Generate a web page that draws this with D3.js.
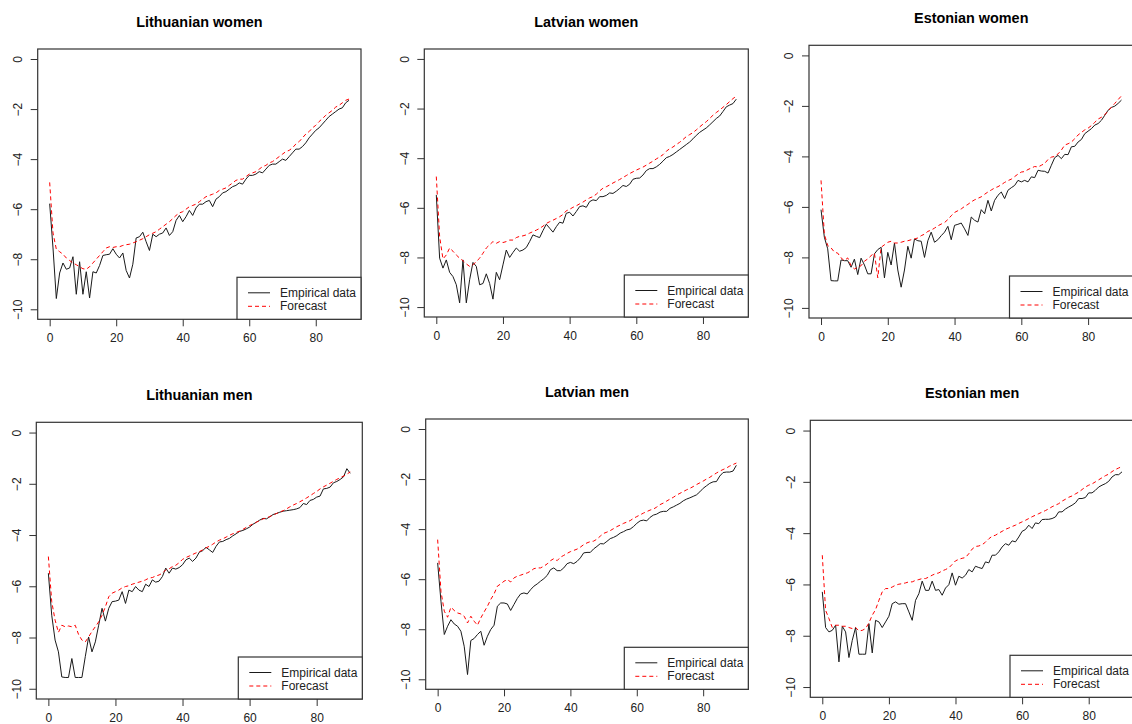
<!DOCTYPE html>
<html>
<head>
<meta charset="utf-8">
<script src="https://cdn.jsdelivr.net/npm/d3@7"></script>
<style>
  body { margin: 0; background: #fff; }
  svg { display: block; font-family: "Liberation Sans", Arial, sans-serif; }
</style>
</head>
<body>
<div id="main"></div>
<script>
// chart data
const titles = ["Lithuanian women", "Latvian women", "Estonian women",
                "Lithuanian men", "Latvian men", "Estonian men"];
const ages = d3.range(0, 91);
const xTicks = [0, 20, 40, 60, 80];
const yTicks = [0, -2, -4, -6, -8, -10];
const legendLabels = ["Empirical data", "Forecast"];

const ltWomenEmp = [-5.78,-7.55,-9.57,-8.55,-8.15,-8.4,-8.35,-7.9,-9.4,-8.1,
  -9.4,-8.5,-9.55,-8.5,-8.55,-8.25,-7.85,-7.82,-7.8,-7.58,
  -7.8,-7.95,-7.75,-8.45,-8.75,-8.2,-7.15,-7.1,-6.92,-7.3,
  -7.65,-7.0,-7.1,-7.0,-6.95,-6.75,-7.05,-6.9,-6.45,-6.25,
  -6.5,-6.3,-6.05,-6.25,-5.95,-5.8,-5.8,-5.7,-5.65,-5.9,
  -5.6,-5.5,-5.35,-5.3,-5.2,-5.1,-5.05,-4.95,-5.0,-4.8,
  -4.65,-4.65,-4.6,-4.5,-4.55,-4.4,-4.25,-4.2,-4.2,-4.1,
  -4.0,-4.05,-3.9,-3.75,-3.6,-3.6,-3.5,-3.35,-3.15,-3.0,
  -2.85,-2.75,-2.6,-2.45,-2.3,-2.2,-2.1,-2.0,-1.95,-1.75,-1.65];
const ltWomenFc = [-4.93,-6.95,-7.6,-7.7,-7.8,-7.95,-8.05,-8.15,-8.22,-8.3,
  -8.38,-8.4,-8.3,-8.15,-8.0,-7.85,-7.7,-7.55,-7.5,-7.53,
  -7.5,-7.5,-7.45,-7.42,-7.4,-7.35,-7.3,-7.24,-7.18,-7.1,
  -7.02,-6.96,-6.9,-6.8,-6.7,-6.6,-6.5,-6.38,-6.25,-6.15,
  -6.1,-6.0,-5.9,-5.85,-5.8,-5.7,-5.6,-5.5,-5.45,-5.4,
  -5.35,-5.25,-5.2,-5.15,-5.05,-4.95,-4.85,-4.8,-4.8,-4.7,
  -4.6,-4.55,-4.5,-4.4,-4.3,-4.25,-4.15,-4.1,-4.0,-3.9,
  -3.8,-3.7,-3.65,-3.55,-3.4,-3.3,-3.15,-3.0,-2.9,-2.75,
  -2.65,-2.5,-2.38,-2.25,-2.15,-2.05,-1.92,-1.85,-1.75,-1.65,-1.6];

const lvWomenEmp = [-5.48,-8.03,-8.43,-8.1,-8.6,-8.77,-9.1,-9.83,-8.1,-9.83,
  -8.9,-8.2,-8.36,-9.1,-9.05,-8.66,-9.05,-9.68,-8.6,-8.9,
  -8.3,-7.7,-8.0,-7.8,-7.62,-7.75,-7.7,-7.6,-7.36,-7.09,
  -7.15,-7.2,-6.92,-6.66,-6.82,-6.98,-6.76,-6.58,-6.62,-6.22,
  -6.18,-6.33,-6.15,-5.95,-5.92,-5.98,-5.75,-5.68,-5.71,-5.55,
  -5.55,-5.5,-5.4,-5.42,-5.33,-5.22,-5.1,-5.14,-5.05,-4.85,
  -4.81,-4.8,-4.68,-4.5,-4.42,-4.42,-4.35,-4.25,-4.12,-3.98,
  -3.93,-3.85,-3.75,-3.65,-3.55,-3.45,-3.35,-3.22,-3.08,-2.96,
  -2.87,-2.78,-2.66,-2.53,-2.4,-2.3,-2.12,-1.93,-1.86,-1.8,-1.62];
const lvWomenFc = [-4.74,-7.16,-8.06,-7.9,-7.62,-7.75,-7.9,-8.03,-8.13,-8.26,
  -8.36,-8.3,-8.16,-8.03,-7.83,-7.62,-7.49,-7.36,-7.43,-7.36,
  -7.4,-7.36,-7.3,-7.3,-7.2,-7.15,-7.13,-7.09,-7.02,-6.96,
  -6.9,-6.83,-6.74,-6.63,-6.56,-6.5,-6.43,-6.36,-6.27,-6.12,
  -6.06,-5.98,-5.92,-5.84,-5.77,-5.68,-5.6,-5.55,-5.45,-5.32,
  -5.21,-5.15,-5.08,-5.0,-4.93,-4.86,-4.78,-4.7,-4.62,-4.55,
  -4.48,-4.42,-4.36,-4.28,-4.2,-4.12,-4.03,-3.95,-3.86,-3.72,
  -3.62,-3.55,-3.45,-3.36,-3.25,-3.13,-3.05,-2.97,-2.86,-2.74,
  -2.63,-2.53,-2.4,-2.27,-2.16,-2.06,-1.95,-1.84,-1.72,-1.6,-1.5];

const etWomenEmp = [-6.11,-7.2,-7.66,-8.92,-8.93,-8.93,-8.1,-8.13,-8.13,-8.39,
  -8.07,-8.68,-8.03,-8.3,-8.65,-8.65,-7.86,-7.69,-7.6,-8.81,
  -7.8,-8.3,-7.43,-8.5,-9.18,-8.5,-7.56,-8.03,-7.27,-7.34,
  -7.36,-8.0,-7.34,-7.0,-7.4,-7.3,-7.14,-7.0,-6.77,-7.3,
  -6.73,-6.69,-6.64,-6.87,-7.13,-6.4,-6.53,-6.6,-6.11,-6.27,
  -5.74,-6.16,-5.74,-5.54,-5.41,-5.67,-5.34,-5.24,-5.15,-4.95,
  -5.01,-4.95,-5.01,-4.81,-4.84,-4.55,-4.58,-4.59,-4.66,-4.35,
  -4.05,-3.96,-4.09,-3.92,-3.93,-3.62,-3.6,-3.43,-3.33,-3.1,
  -3.0,-2.9,-2.76,-2.7,-2.57,-2.37,-2.17,-2.06,-2.01,-1.9,-1.77];
const etWomenFc = [-4.95,-7.08,-7.53,-7.62,-7.79,-7.83,-8.02,-8.13,-8.02,-8.33,
  -8.46,-8.39,-8.33,-8.15,-8.06,-7.93,-7.83,-8.81,-7.6,-7.5,
  -7.4,-7.36,-7.43,-7.43,-7.4,-7.36,-7.34,-7.3,-7.27,-7.23,
  -7.14,-7.08,-6.97,-6.92,-6.84,-6.75,-6.68,-6.62,-6.5,-6.35,
  -6.22,-6.15,-6.08,-5.98,-5.9,-5.8,-5.72,-5.66,-5.6,-5.5,
  -5.41,-5.33,-5.25,-5.2,-5.12,-5.03,-4.96,-4.9,-4.8,-4.7,
  -4.62,-4.6,-4.52,-4.46,-4.4,-4.42,-4.35,-4.28,-4.12,-4.03,
  -4.0,-3.9,-3.75,-3.55,-3.5,-3.43,-3.3,-3.15,-3.05,-2.95,
  -2.88,-2.78,-2.65,-2.52,-2.45,-2.35,-2.2,-2.05,-1.9,-1.75,-1.6];

const ltMenEmp = [-5.49,-7.13,-8.1,-8.56,-9.54,-9.56,-9.56,-8.82,-9.56,-9.56,
  -9.56,-8.75,-7.98,-8.56,-8.17,-7.52,-6.86,-7.36,-6.86,-6.6,
  -6.58,-6.54,-6.21,-6.67,-6.15,-6.21,-6.01,-6.15,-6.21,-5.92,
  -6.01,-5.75,-5.84,-5.8,-5.62,-5.29,-5.49,-5.29,-5.33,-5.27,
  -5.16,-4.97,-4.9,-5.03,-4.9,-4.67,-4.61,-4.48,-4.58,-4.68,
  -4.44,-4.27,-4.25,-4.18,-4.13,-4.03,-3.95,-3.86,-3.82,-3.76,
  -3.69,-3.58,-3.5,-3.42,-3.35,-3.37,-3.29,-3.2,-3.16,-3.11,
  -3.07,-3.05,-3.03,-3.01,-2.98,-2.93,-2.77,-2.81,-2.65,-2.61,
  -2.52,-2.48,-2.2,-2.18,-2.13,-1.96,-1.91,-1.83,-1.73,-1.41,-1.59];
const ltMenFc = [-4.84,-6.6,-7.32,-7.8,-7.52,-7.58,-7.55,-7.58,-7.52,-7.88,
  -8.1,-8.17,-7.98,-7.76,-7.58,-7.39,-7.13,-6.8,-6.41,-6.27,
  -6.21,-6.15,-6.06,-6.01,-5.98,-5.92,-5.88,-5.84,-5.8,-5.75,
  -5.68,-5.66,-5.6,-5.56,-5.49,-5.36,-5.32,-5.23,-5.18,-5.08,
  -4.95,-4.88,-4.82,-4.76,-4.7,-4.65,-4.58,-4.5,-4.44,-4.36,
  -4.27,-4.2,-4.15,-4.08,-4.01,-3.95,-3.9,-3.85,-3.78,-3.7,
  -3.63,-3.57,-3.5,-3.44,-3.37,-3.33,-3.28,-3.22,-3.16,-3.1,
  -3.05,-2.98,-2.9,-2.83,-2.77,-2.7,-2.63,-2.55,-2.47,-2.38,
  -2.3,-2.2,-2.12,-2.05,-1.98,-1.9,-1.83,-1.76,-1.7,-1.62,-1.54];

const lvMenEmp = [-5.35,-6.88,-8.21,-7.88,-7.62,-7.79,-7.88,-8.08,-8.68,-9.81,
  -8.45,-8.37,-8.21,-8.08,-8.64,-8.28,-8.01,-7.84,-7.08,-6.95,
  -6.95,-6.99,-7.25,-7.01,-6.77,-6.59,-6.55,-6.59,-6.42,-6.28,
  -6.19,-6.08,-5.98,-5.85,-5.62,-5.55,-5.66,-5.66,-5.55,-5.38,
  -5.33,-5.38,-5.29,-5.15,-4.95,-4.93,-4.93,-4.79,-4.69,-4.58,
  -4.59,-4.49,-4.38,-4.33,-4.26,-4.16,-4.1,-4.03,-4.0,-3.9,
  -3.77,-3.67,-3.64,-3.67,-3.53,-3.44,-3.4,-3.32,-3.29,-3.29,
  -3.17,-3.11,-3.04,-2.97,-2.87,-2.8,-2.75,-2.69,-2.63,-2.51,
  -2.37,-2.27,-2.17,-2.11,-2.1,-1.88,-1.74,-1.72,-1.72,-1.68,-1.45];
const lvMenFc = [-4.42,-6.49,-7.28,-7.52,-7.12,-7.25,-7.35,-7.39,-7.48,-7.75,
  -7.48,-7.68,-7.84,-7.55,-7.31,-7.08,-6.81,-6.59,-6.28,-6.19,
  -6.08,-6.02,-6.11,-5.95,-5.88,-5.84,-5.79,-5.75,-5.68,-5.58,
  -5.55,-5.55,-5.48,-5.39,-5.26,-5.18,-5.26,-5.12,-5.05,-4.97,
  -4.9,-4.85,-4.8,-4.72,-4.62,-4.55,-4.5,-4.48,-4.4,-4.28,
  -4.17,-4.12,-4.06,-3.98,-3.9,-3.84,-3.77,-3.72,-3.66,-3.57,
  -3.5,-3.43,-3.36,-3.3,-3.24,-3.2,-3.12,-3.02,-2.96,-2.88,
  -2.8,-2.73,-2.64,-2.57,-2.5,-2.43,-2.37,-2.3,-2.22,-2.15,
  -2.08,-2.0,-1.93,-1.84,-1.76,-1.68,-1.62,-1.56,-1.48,-1.42,-1.36];

const etMenEmp = [-6.29,-7.68,-7.85,-7.79,-7.59,-9.02,-7.63,-7.85,-8.85,-8.18,
  -7.68,-8.72,-8.72,-8.72,-7.53,-8.67,-7.4,-7.46,-7.68,-7.46,
  -7.24,-6.75,-6.68,-6.77,-6.75,-6.75,-7.07,-7.4,-6.62,-6.36,
  -5.87,-6.23,-6.23,-5.87,-6.23,-6.2,-6.42,-6.14,-6.01,-5.55,
  -6.03,-5.68,-5.75,-5.64,-5.42,-5.51,-5.29,-5.34,-5.38,-5.12,
  -5.16,-4.86,-4.86,-4.73,-4.54,-4.41,-4.47,-4.3,-4.34,-4.15,
  -3.93,-3.86,-3.69,-3.82,-3.6,-3.63,-3.47,-3.46,-3.46,-3.43,
  -3.37,-3.17,-3.17,-3.06,-2.98,-2.91,-2.82,-2.65,-2.65,-2.61,
  -2.43,-2.43,-2.33,-2.2,-2.13,-2.07,-1.98,-1.81,-1.72,-1.72,-1.61];
const etMenFc = [-4.86,-7.01,-7.33,-7.68,-7.59,-7.59,-7.63,-7.63,-7.68,-7.72,
  -7.68,-7.81,-7.79,-7.72,-7.5,-7.2,-6.98,-6.62,-6.29,-6.16,
  -6.16,-6.1,-6.03,-5.99,-5.97,-5.94,-5.9,-5.9,-5.84,-5.81,
  -5.77,-5.77,-5.71,-5.64,-5.58,-5.55,-5.47,-5.42,-5.35,-5.22,
  -5.08,-5.02,-4.98,-4.95,-4.8,-4.62,-4.52,-4.5,-4.45,-4.35,
  -4.22,-4.12,-4.08,-4.0,-3.93,-3.85,-3.8,-3.74,-3.69,-3.62,
  -3.56,-3.5,-3.43,-3.36,-3.3,-3.24,-3.18,-3.12,-3.05,-2.97,
  -2.91,-2.85,-2.75,-2.68,-2.6,-2.55,-2.47,-2.4,-2.3,-2.2,
  -2.13,-2.08,-2.0,-1.92,-1.84,-1.76,-1.7,-1.6,-1.52,-1.46,-1.4];

const empirical = [ltWomenEmp, lvWomenEmp, etWomenEmp, ltMenEmp, lvMenEmp, etMenEmp];
const forecast = [ltWomenFc, lvWomenFc, etWomenFc, ltMenFc, lvMenFc, etMenFc];

// plot region of each panel (pixels)
const boxes = [
  { l: 37.7,  t: 49,    r: 361,    b: 319.3 },
  { l: 424.3, t: 49,    r: 748.3,  b: 317 },
  { l: 809,   t: 45.3,  r: 1133.5, b: 318 },
  { l: 36.3,  t: 422.3, r: 362.3,  b: 699 },
  { l: 425.7, t: 419,   r: 748.3,  b: 689.3 },
  { l: 810.3, t: 420.3, r: 1134,   b: 697.3 }
];

const ink = "#333";

const svg = d3.select("#main")
  .append("svg")
  .attr("width", 1132)
  .attr("height", 724);

boxes.forEach((bx, i) => {
  const x = d3.scaleLinear().domain([-3.6, 93.6]).range([bx.l, bx.r]);
  const y = d3.scaleLinear().domain([-10.4, 0.4]).range([bx.b, bx.t]);
  const g = svg.append("g");

  // title
  g.append("text")
    .attr("x", (bx.l + bx.r) / 2)
    .attr("y", bx.t - 27.5)
    .attr("dy", "0.35em")
    .attr("text-anchor", "middle")
    .attr("font-weight", "bold")
    .attr("font-size", "14.4px")
    .attr("fill", "#000")
    .text(titles[i]);

  // x axis
  const xa = g.append("g")
    .attr("transform", `translate(0,${bx.b})`)
    .call(d3.axisBottom(x).tickValues(xTicks).tickSize(7).tickSizeOuter(0).tickPadding(7));
  xa.select(".domain").remove();
  xa.attr("font-family", null);
  xa.selectAll("line").attr("stroke", ink);
  xa.selectAll("text").attr("font-size", "12px").attr("fill", "#222");

  // y axis with rotated labels
  const ya = g.append("g")
    .attr("transform", `translate(${bx.l},0)`)
    .call(d3.axisLeft(y).tickValues(yTicks).tickSize(7).tickSizeOuter(0));
  ya.select(".domain").remove();
  ya.attr("font-family", null);
  ya.selectAll("line").attr("stroke", ink);
  ya.selectAll("text")
    .attr("font-size", "12px").attr("fill", "#222")
    .attr("x", 0).attr("y", -20).attr("dy", "0.35em")
    .attr("text-anchor", "middle")
    .attr("transform", "rotate(-90)");

  // box
  g.append("rect")
    .attr("x", bx.l).attr("y", bx.t)
    .attr("width", bx.r - bx.l).attr("height", bx.b - bx.t)
    .attr("fill", "none").attr("stroke", ink).attr("stroke-width", 1.2);

  const line = d3.line()
    .x((d, k) => x(ages[k]))
    .y(d => y(d));

  g.append("path")
    .datum(empirical[i])
    .attr("d", line)
    .attr("fill", "none")
    .attr("stroke", "#1a1a1a")
    .attr("stroke-width", 1);

  g.append("path")
    .datum(forecast[i])
    .attr("d", line)
    .attr("fill", "none")
    .attr("stroke", "red")
    .attr("stroke-width", 1)
    .attr("stroke-dasharray", "4,3");

  // legend
  const lw = 124, lh = 42;
  const lg = g.append("g").attr("transform", `translate(${bx.r - lw},${bx.b - lh})`);
  lg.append("rect")
    .attr("width", lw).attr("height", lh)
    .attr("fill", "#fff").attr("stroke", ink).attr("stroke-width", 1.2);
  const rows = [15.5, 29];
  const styles = [{ c: "#1a1a1a", d: null }, { c: "red", d: "4,3" }];
  legendLabels.forEach((lab, k) => {
    lg.append("line")
      .attr("x1", 11).attr("x2", 33)
      .attr("y1", rows[k]).attr("y2", rows[k])
      .attr("stroke", styles[k].c)
      .attr("stroke-dasharray", styles[k].d);
    lg.append("text")
      .attr("x", 43).attr("y", rows[k]).attr("dy", "0.35em")
      .attr("font-size", "12px").attr("fill", "#222")
      .text(lab);
  });
});
</script>
</body>
</html>
